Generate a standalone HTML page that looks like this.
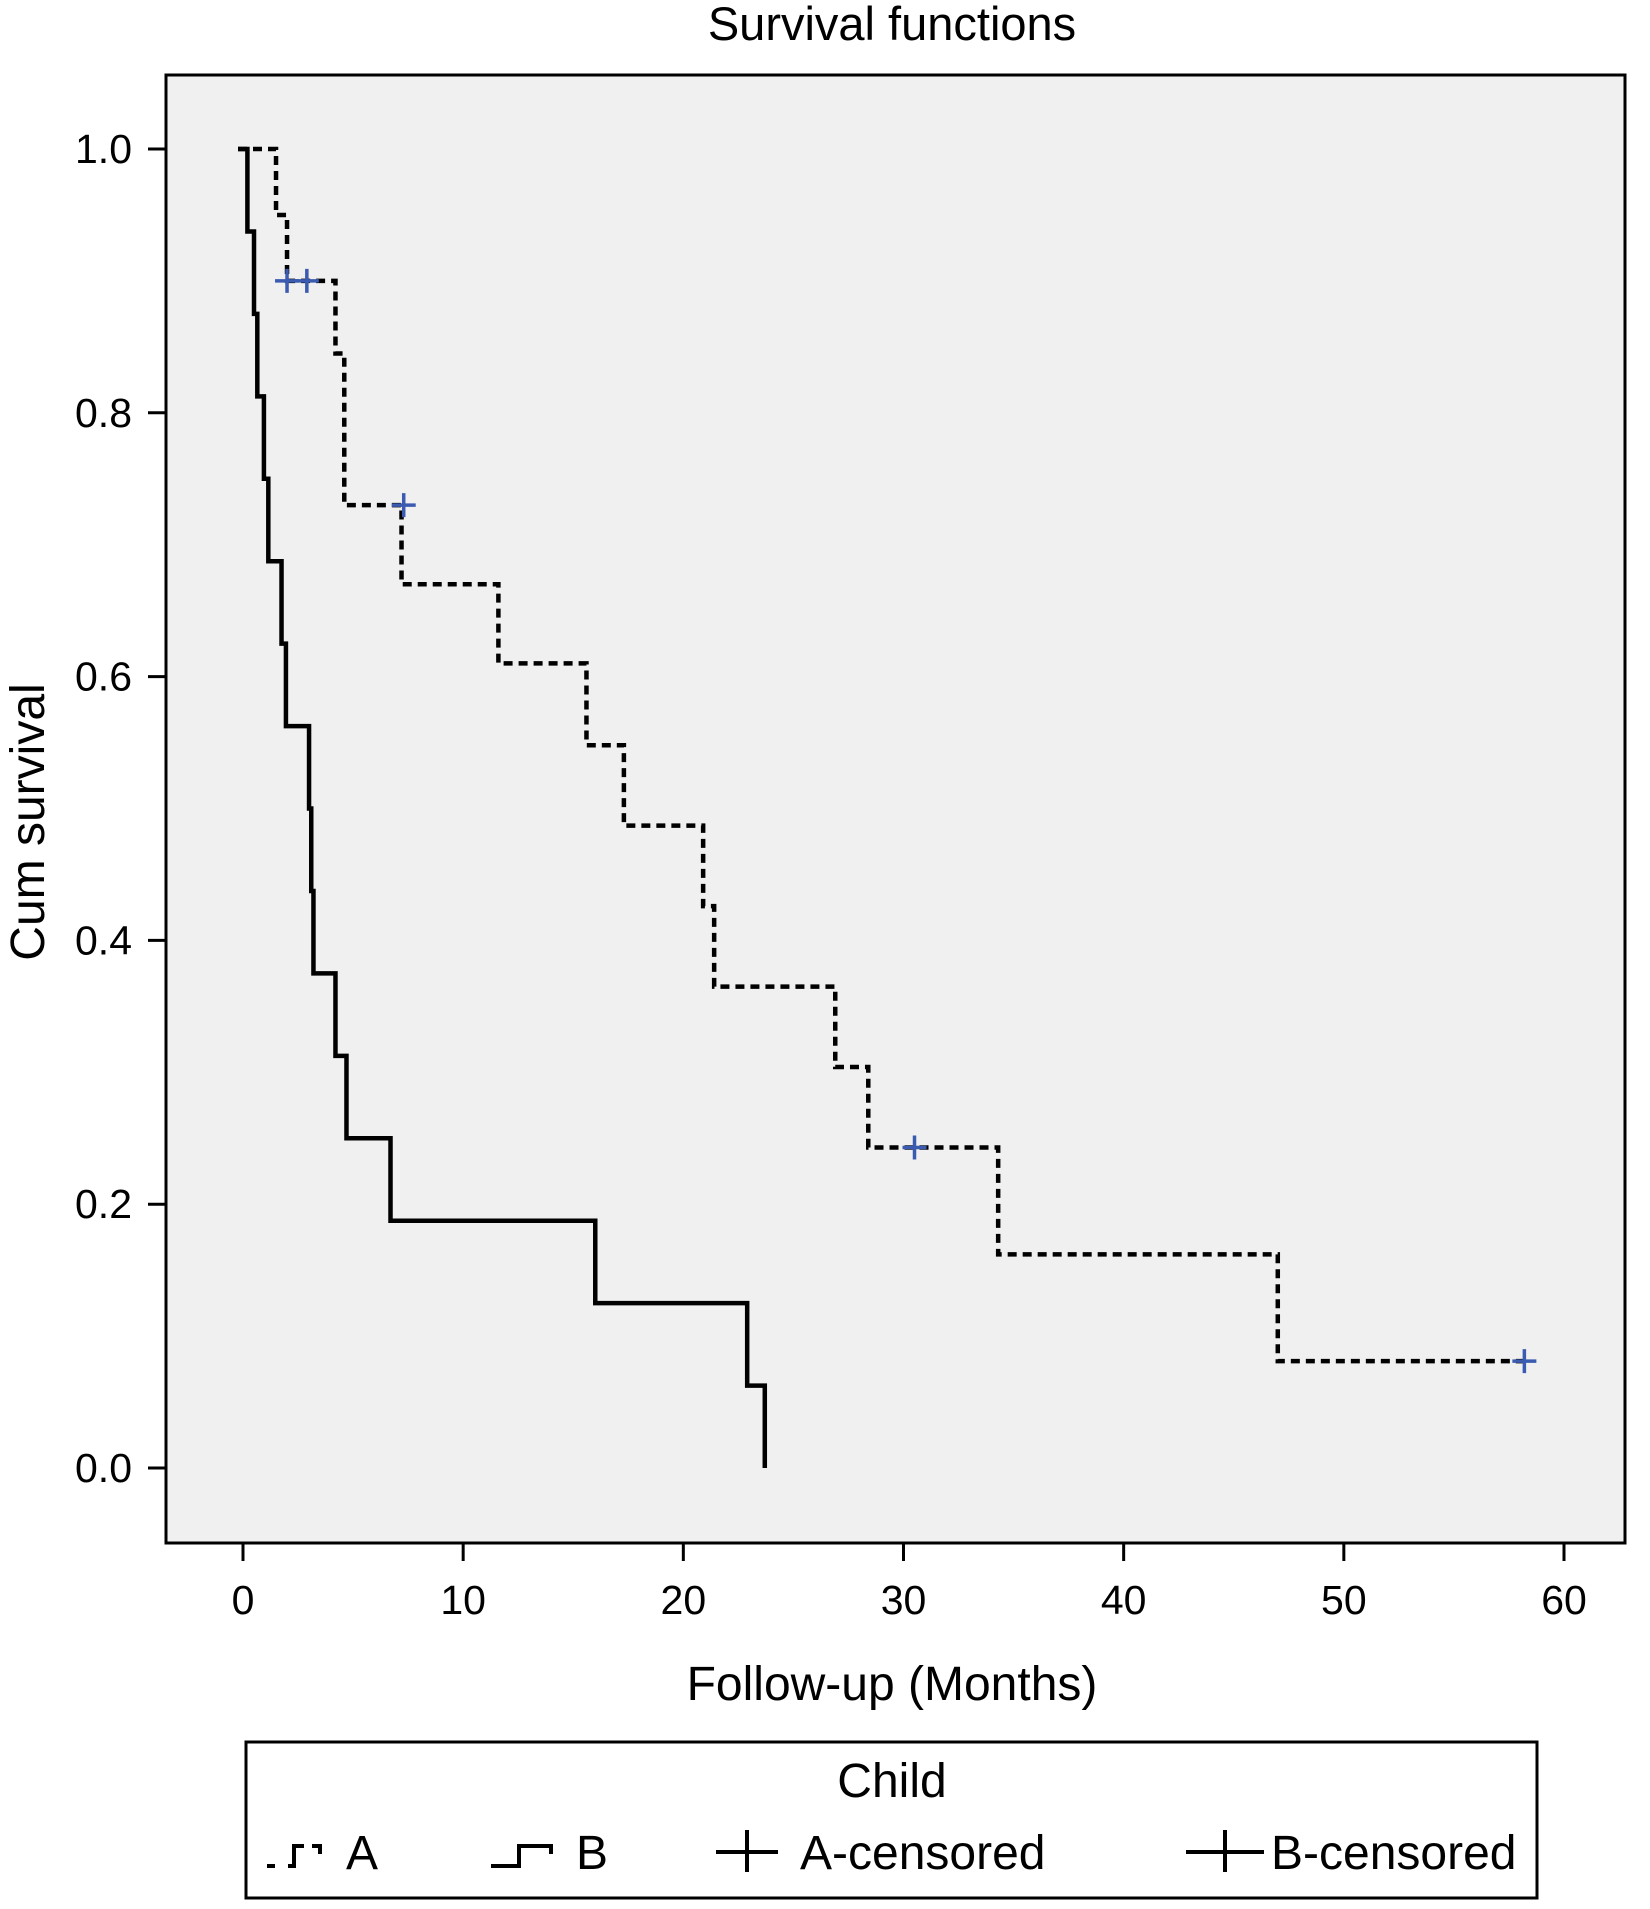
<!DOCTYPE html>
<html><head><meta charset="utf-8"><style>
html,body{margin:0;padding:0;background:#fff;}
svg{display:block;font-family:"Liberation Sans",sans-serif;}
</style></head><body>
<svg id="chart" width="1650" height="1909" viewBox="0 0 1650 1909">
<text x="892" y="40" font-size="47" text-anchor="middle">Survival functions</text>
<rect x="166" y="75" width="1459" height="1468" fill="#f0f0f0" stroke="#000" stroke-width="3"/>
<g id="yaxis"></g>
<g id="xaxis"></g>
<text transform="translate(44,822) rotate(-90)" font-size="48" text-anchor="middle">Cum survival</text>
<text x="892" y="1700" font-size="48" text-anchor="middle">Follow-up (Months)</text>
<g id="series"></g>
<g>
<rect x="246" y="1742" width="1291" height="156" fill="#fff" stroke="#000" stroke-width="3"/>
<text x="892" y="1797" font-size="48" text-anchor="middle">Child</text>
<g>
<path d="M267 1866 h8 M288 1866 h6 v-20 h10 M312 1846 h8 v8" fill="none" stroke="#000" stroke-width="4"/>
<text x="346" y="1869" font-size="48">A</text></g>
<g>
<path d="M491 1866 h28 v-20 h32 v8" fill="none" stroke="#000" stroke-width="4"/>
<text x="576" y="1869" font-size="48">B</text></g>
<g>
<path d="M716 1852 h62 M747 1830 v42" fill="none" stroke="#000" stroke-width="4"/>
<text x="800" y="1869" font-size="48">A-censored</text></g>
<g>
<path d="M1186 1852 h78 M1225 1830 v42" fill="none" stroke="#000" stroke-width="4"/>
<text x="1271" y="1869" font-size="48">B-censored</text></g>
</g>
</svg>
<script>
const xTicks=[0,10,20,30,40,50,60];
const yTicks=[0,0.2,0.4,0.6,0.8,1.0];
const yTickLabels=["0.0","0.2","0.4","0.6","0.8","1.0"];
const aTimes=[0,1.5,2.0,4.2,4.6,7.2,11.6,15.6,17.3,20.9,21.4,26.9,28.4,34.3,47.0,58.2];
const aSurv=[1.0,0.95,0.90,0.845,0.73,0.67,0.61,0.548,0.487,0.426,0.365,0.304,0.243,0.162,0.081,0.081];
const aCensTimes=[2.0,2.9,7.3,30.5,58.2];
const aCensSurv=[0.90,0.90,0.73,0.243,0.081];
const bTimes=[0,0.2,0.5,0.65,0.95,1.15,1.75,1.95,3.0,3.1,3.2,4.2,4.7,6.7,16.0,22.9,23.7];
const bSurv=[1.0,0.9375,0.875,0.8125,0.75,0.6875,0.625,0.5625,0.5,0.4375,0.375,0.3125,0.25,0.1875,0.125,0.0625,0];
const NS='http://www.w3.org/2000/svg';
const X=t=>243+t*(1564-243)/60;
const Y=v=>1468-v*(1468-149);
function mk(tag,attrs,parent){const e=document.createElementNS(NS,tag);for(const k in attrs)e.setAttribute(k,attrs[k]);parent.appendChild(e);return e;}
const ya=document.getElementById('yaxis'),xa=document.getElementById('xaxis'),sg=document.getElementById('series');
yTicks.forEach((v,i)=>{
 const l=mk('line',{x1:148,x2:166,y1:Y(v),y2:Y(v),stroke:'#000','stroke-width':3},ya);
 
 
 const t=mk('text',{x:132,y:Y(v)+14,'font-size':41,'text-anchor':'end'},ya);
 t.textContent=yTickLabels[i];
 
 
});
xTicks.forEach(v=>{
 const l=mk('line',{x1:X(v),x2:X(v),y1:1543,y2:1561,stroke:'#000','stroke-width':3},xa);
 
 
 const t=mk('text',{x:X(v),y:1614,'font-size':41,'text-anchor':'middle'},xa);
 t.textContent=String(v);
 
 
});
function stepPath(ts,ss){let d='M'+(X(ts[0])-5)+' '+Y(ss[0]);for(let i=1;i<ts.length;i++){d+=' H'+X(ts[i])+' V'+Y(ss[i]);}return d;}
const pa=mk('path',{d:stepPath(aTimes,aSurv),fill:'none',stroke:'#000','stroke-width':4.5,'stroke-dasharray':'9 6'},sg);


const pb=mk('path',{d:stepPath(bTimes,bSurv),fill:'none',stroke:'#000','stroke-width':4.5},sg);


aCensTimes.forEach((t,i)=>{
 const x=X(t),y=Y(aCensSurv[i]);
 const c=mk('path',{d:`M${x-12} ${y} H${x+12} M${x} ${y-12} V${y+12}`,stroke:'#3b5bb0','stroke-width':3.5,fill:'none'},sg);
 
 
});
</script>
</body></html>
